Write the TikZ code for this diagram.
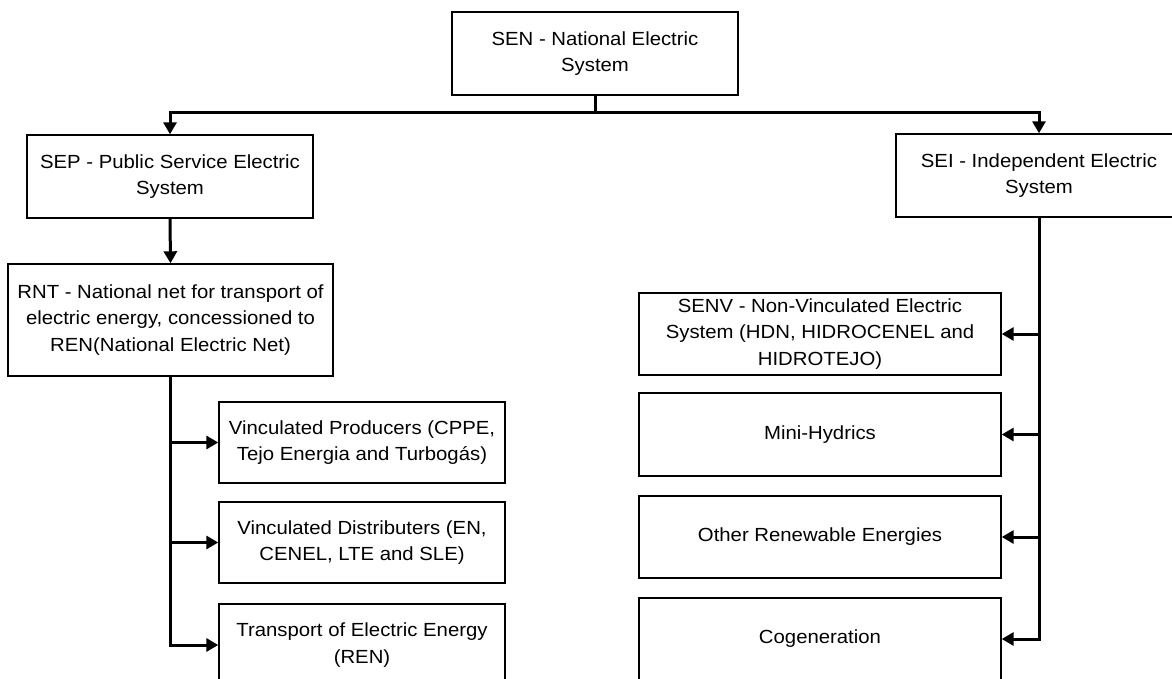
\documentclass[tikz,border=0pt]{standalone}
\usepackage{fontspec}
\setmainfont{Liberation Sans}[FakeStretch=1.07]
\usetikzlibrary{arrows.meta}
\begin{document}
\begin{tikzpicture}[x=1pt,y=-1pt,
  box/.style={draw, line width=1.4pt, inner sep=0pt, align=center,
    font=\fontsize{19}{26.7}\selectfont, minimum width=286pt, minimum height=83pt},
  rbox/.style={box, minimum width=362pt, minimum height=82pt},
  conn/.style={line width=3pt},
  arr/.style={conn, -{Triangle[length=12pt,width=13pt]}}]
\useasboundingbox (0,0) rectangle (1172,679);
\clip (0,0) rectangle (1172,679);
\node[box] (sen) at (595,53.5) {SEN - National Electric\\System};
\node[box] (sep) at (170,176.5) {SEP - Public Service Electric\\System};
\node[box] (sei) at (1039,175.5) {SEI - Independent Electric\\System};
\node[box, minimum width=325pt, minimum height=112pt] (rnt) at (170.5,320)
  {RNT - National net for transport of\\electric energy, concessioned to\\REN(National Electric Net)};
\node[box, minimum height=81pt] (vp) at (362,442.5) {Vinculated Producers (CPPE,\\Tejo Energia and Turbogás)};
\node[box, minimum height=81pt] (vd) at (362,542.5) {Vinculated Distributers (EN,\\CENEL, LTE and SLE)};
\node[box, minimum height=82pt] (tee) at (362,645) {Transport of Electric Energy\\(REN)};
\node[rbox] (senv) at (820,334) {SENV - Non-Vinculated Electric\\System (HDN, HIDROCENEL and\\HIDROTEJO)};
\node[rbox, minimum height=83pt] (mh) at (820,434.5) {Mini-Hydrics};
\node[rbox] (ore) at (820,537) {Other Renewable Energies};
\node[rbox] (cog) at (820,639) {Cogeneration};
\coordinate (jn) at (595,113);
\draw[conn] (sen.south) -- (jn);
\draw[arr] (jn) -| (sep.north);
\draw[arr] (jn) -| (sei.north);
\draw[arr] (sep.south) -- (rnt.north);
\foreach \c in {vp,vd,tee} \draw[arr] (rnt.south) |- (\c.west);
\foreach \c in {senv,mh,ore,cog} \draw[arr] (sei.south) |- (\c.east);
\end{tikzpicture}
\end{document}
